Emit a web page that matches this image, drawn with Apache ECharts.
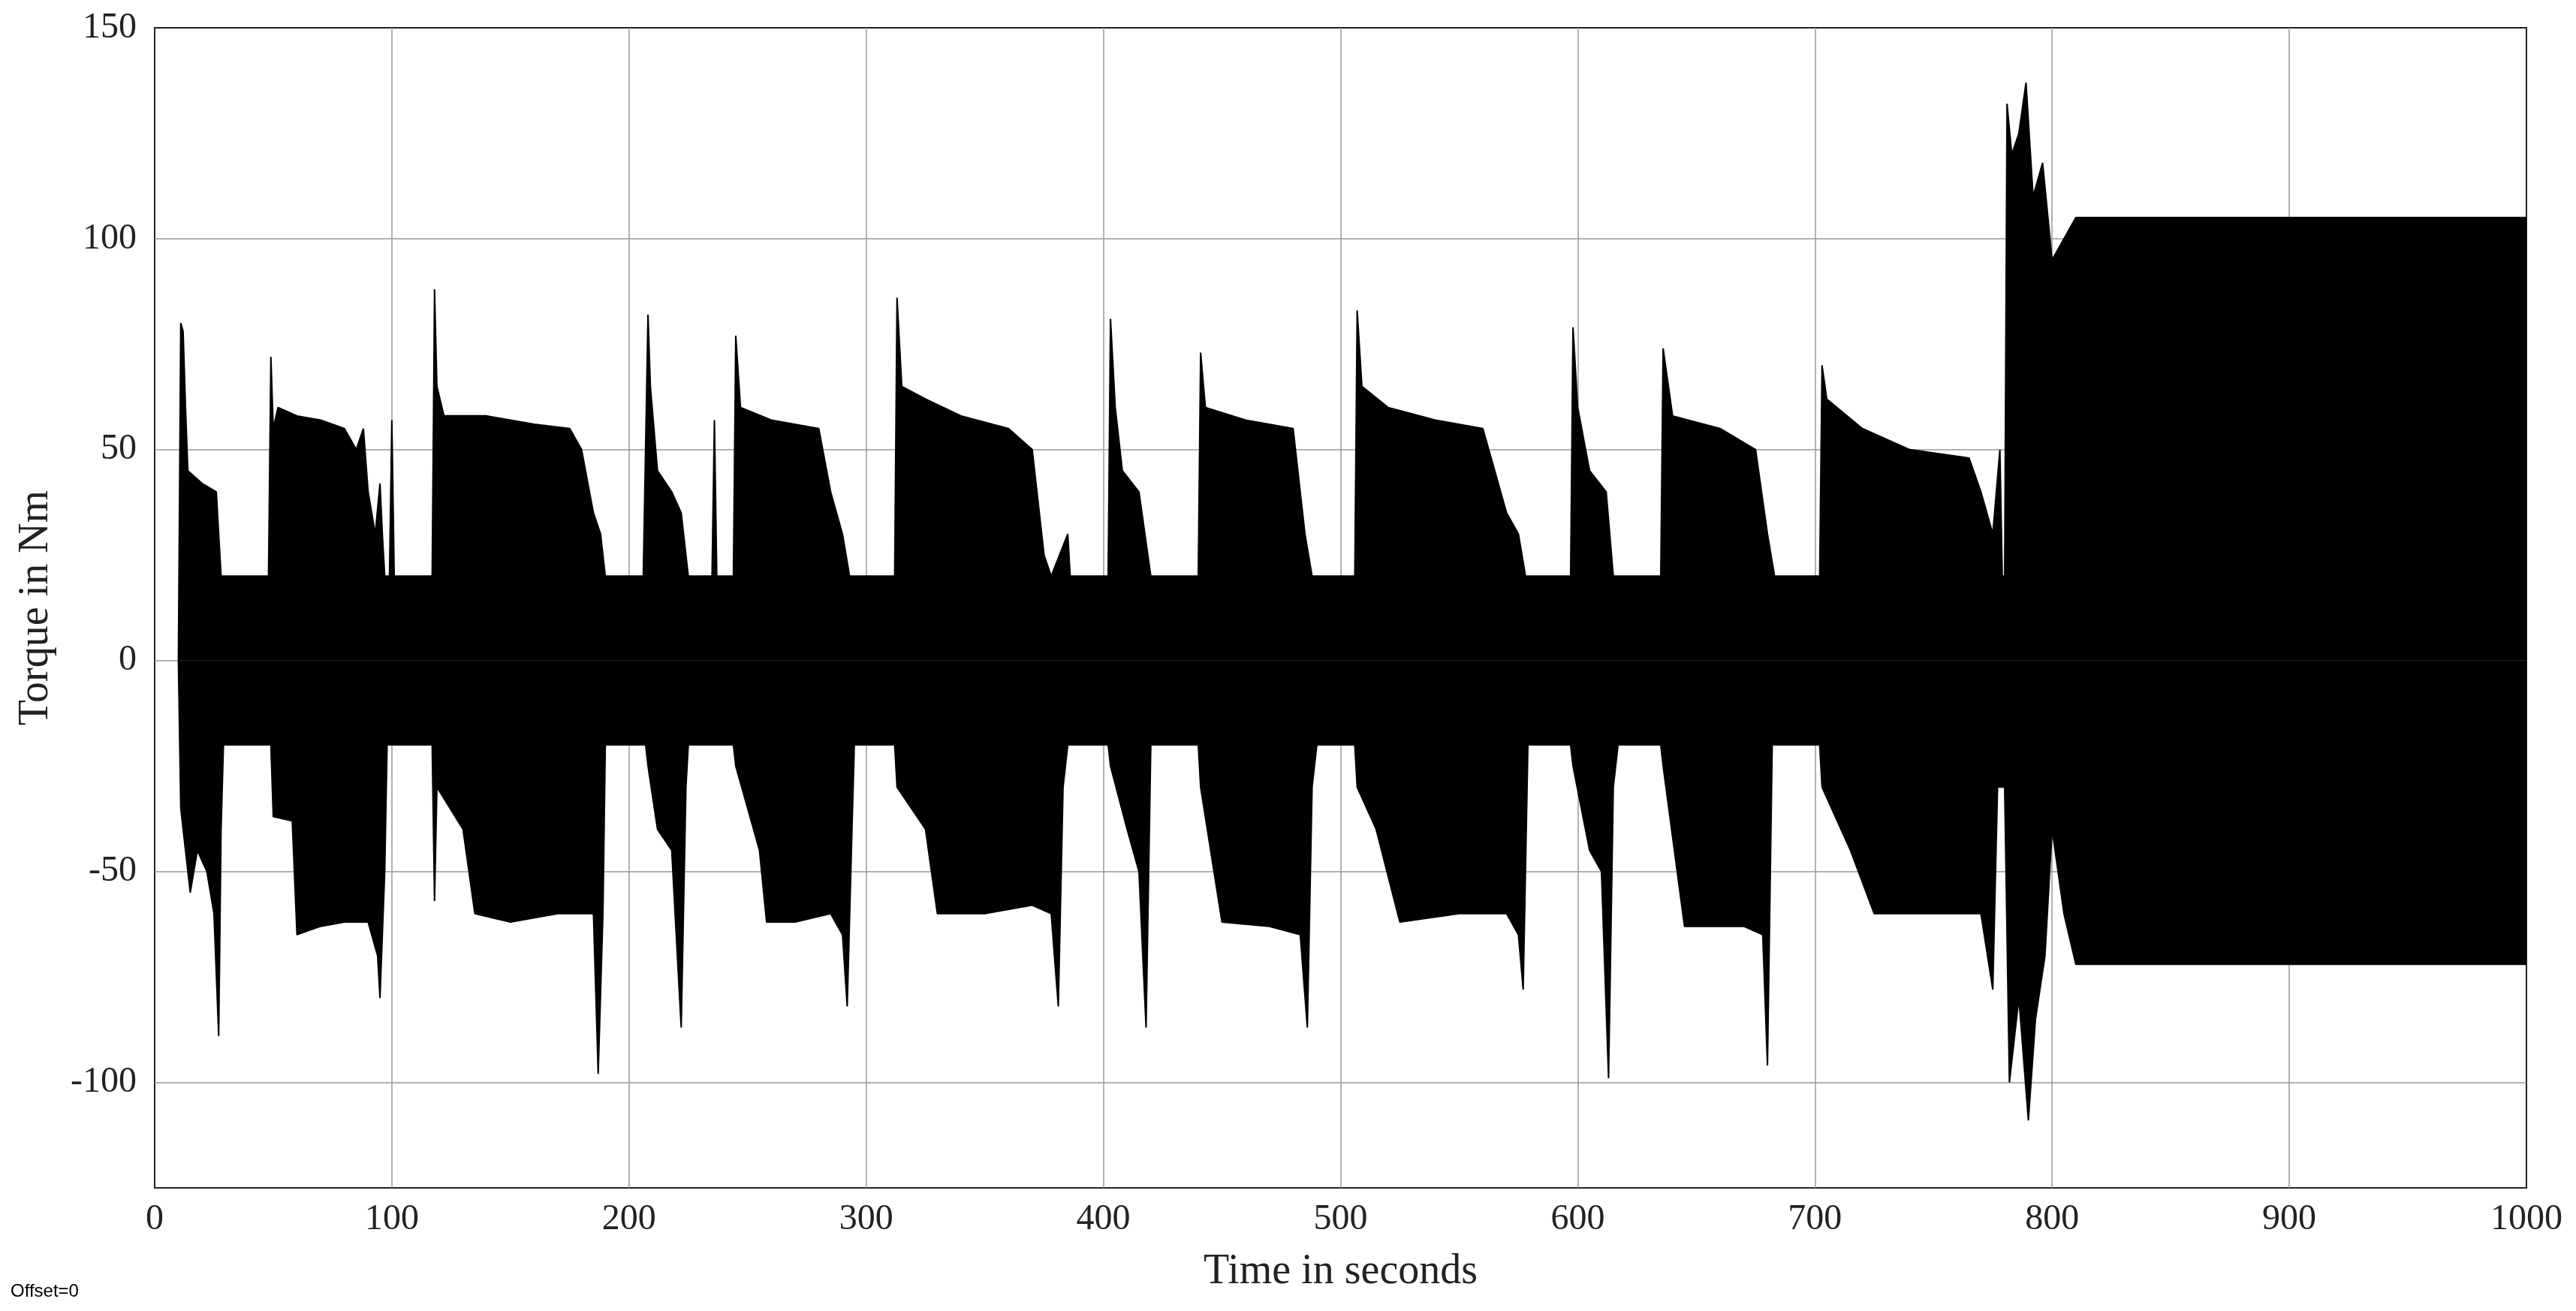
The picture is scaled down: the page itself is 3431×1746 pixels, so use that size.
<!DOCTYPE html>
<html>
<head>
<meta charset="utf-8">
<script src="https://cdn.jsdelivr.net/npm/echarts@6/dist/echarts.min.js"></script>
<style>html,body{margin:0;padding:0;background:#fff}#chart{width:3431px;height:1746px}</style>
</head>
<body>
<div id="chart"></div>
<script>
// upper envelope of the torque band, [time, value]
var hiEnv = [[10,0],[11,80],[12,78],[13,60],[14,45],[20,42],[26,40],[27,30],[28,20],[48,20],[49,72],[50,55],[52,60],[60,58],[70,57],[80,55],[85,50],[88,55],[90,40],[93,30],[95,42],[96,30],[97,20],[99,20],[100,57],[101,20],[117,20],[118,88],[119,65],[122,58],[140,58],[160,56],[175,55],[180,50],[185,35],[188,30],[190,20],[206,20],[208,82],[209,65],[212,45],[218,40],[222,35],[225,20],[235,20],[236,57],[237,20],[244,20],[245,77],[247,60],[260,57],[280,55],[285,40],[290,30],[293,20],[312,20],[313,86],[315,65],[325,62],[340,58],[360,55],[370,50],[375,25],[378,20],[385,30],[386,20],[402,20],[403,81],[405,60],[408,45],[415,40],[420,20],[440,20],[441,73],[443,60],[460,57],[480,55],[485,30],[488,20],[506,20],[507,83],[509,65],[520,60],[540,57],[560,55],[570,35],[575,30],[578,20],[597,20],[598,79],[600,60],[605,45],[612,40],[615,20],[635,20],[636,74],[640,58],[660,55],[675,50],[680,30],[683,20],[702,20],[703,70],[705,62],[720,55],[740,50],[765,48],[770,40],[775,30],[778,50],[779,20],[780,20],[781,132],[783,120],[786,125],[789,137],[792,110],[796,118],[800,95],[805,100],[810,105],[1000,105]];
// lower envelope
var loEnv = [[10,0],[11,-35],[13,-45],[15,-55],[18,-45],[22,-50],[25,-60],[27,-89],[28,-40],[29,-20],[49,-20],[50,-37],[58,-38],[60,-65],[70,-63],[80,-62],[90,-62],[94,-70],[95,-80],[97,-50],[98,-20],[117,-20],[118,-57],[119,-30],[130,-40],[135,-60],[150,-62],[170,-60],[185,-60],[187,-98],[189,-60],[190,-20],[207,-20],[208,-25],[212,-40],[218,-45],[222,-87],[224,-30],[225,-20],[244,-20],[245,-25],[255,-45],[258,-62],[270,-62],[285,-60],[290,-65],[292,-82],[294,-40],[295,-20],[312,-20],[313,-30],[325,-40],[330,-60],[350,-60],[370,-58],[378,-60],[381,-82],[383,-30],[385,-20],[402,-20],[403,-25],[410,-40],[415,-50],[418,-87],[420,-20],[440,-20],[441,-30],[450,-62],[470,-63],[483,-65],[486,-87],[488,-30],[490,-20],[506,-20],[507,-30],[515,-40],[525,-62],[550,-60],[570,-60],[575,-65],[577,-78],[579,-20],[597,-20],[598,-25],[605,-45],[610,-50],[613,-99],[615,-30],[617,-20],[635,-20],[636,-25],[645,-63],[670,-63],[678,-65],[680,-96],[682,-20],[702,-20],[703,-30],[715,-45],[725,-60],[750,-60],[770,-60],[775,-78],[777,-30],[780,-30],[782,-100],[786,-80],[790,-109],[793,-85],[797,-70],[800,-40],[805,-60],[810,-72],[1000,-72]];

var xGrid = [100,200,300,400,500,600,700,800,900];
var yGrid = [-100,-50,0,50,100];
var yTicks = [-100,-50,0,50,100,150];

var font = 'Liberation Serif';
var gridLines = [];
xGrid.forEach(function(v){ gridLines.push({xAxis:v}); });
yGrid.forEach(function(v){ gridLines.push({yAxis:v}); });

var myChart = echarts.init(document.getElementById('chart'));
var option = {
  animation:false,
  backgroundColor:'#fff',
  grid:{left:206,right:66,top:37,bottom:164,show:true,borderColor:'#222',borderWidth:2,backgroundColor:'#fff'},
  xAxis:{type:'value',min:0,max:1000,interval:100,
    name:'Time in seconds',nameLocation:'middle',nameGap:84,
    nameTextStyle:{fontFamily:font,fontSize:56,color:'#222'},
    axisLine:{show:false},axisTick:{show:false},splitLine:{show:false},
    axisLabel:{fontFamily:font,fontSize:48,color:'#222',margin:18,formatter:function(v){return String(v);}}},
  yAxis:{type:'value',min:-125,max:150,
    name:'Torque in Nm',nameLocation:'middle',nameGap:130,
    nameTextStyle:{fontFamily:font,fontSize:56,color:'#222'},
    axisLine:{show:false},axisTick:{show:false},splitLine:{show:false},
    axisLabel:{fontFamily:font,fontSize:48,color:'#222',margin:24,customValues:yTicks}},
  graphic:[{type:'text',left:14,top:1708,style:{text:'Offset=0',fontFamily:'Liberation Sans',fontSize:24,fill:'#000'}}],
  series:[
    {type:'line',data:[],zlevel:0,z:1,silent:true,
     markLine:{silent:true,symbol:'none',label:{show:false},animation:false,
       lineStyle:{color:'#999',width:1.5,type:'solid'},data:gridLines}},
    {type:'line',data:hiEnv,zlevel:1,z:2,symbol:'none',silent:true,
     lineStyle:{color:'#000',width:2},areaStyle:{color:'#000',opacity:1}},
    {type:'line',data:loEnv,zlevel:1,z:2,symbol:'none',silent:true,
     lineStyle:{color:'#000',width:2},areaStyle:{color:'#000',opacity:1}}
  ]
};
myChart.setOption(option);
</script>
</body>
</html>
